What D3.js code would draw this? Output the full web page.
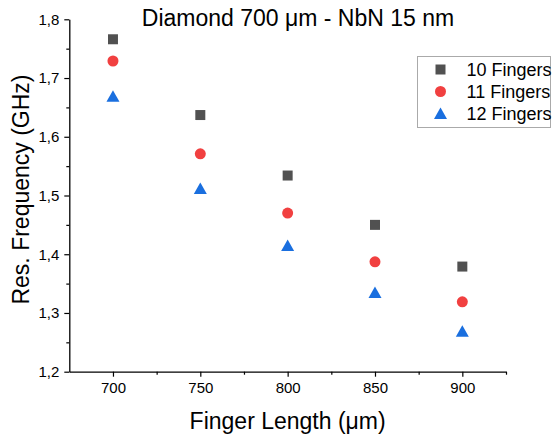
<!DOCTYPE html>
<html>
<head>
<meta charset="utf-8">
<script src="https://cdn.jsdelivr.net/npm/d3@7"></script>
<style>
  body { margin: 0; background: #fff; }
  svg { font-family: "Liberation Sans", Arial, sans-serif; }
</style>
</head>
<body>
<svg id="chart" width="555" height="435"></svg>
<script>
// Finger length (um)
const lengths = [700, 750, 800, 850, 900];

// Resonance frequency (GHz) per finger count
const fingers10 = [1.766, 1.637, 1.534, 1.450, 1.379];
const fingers11 = [1.729, 1.571, 1.470, 1.387, 1.319];
const fingers12 = [1.669, 1.512, 1.415, 1.335, 1.269];

const seriesNames = ["10 Fingers", "11 Fingers", "12 Fingers"];
const yTicks = [1.2, 1.3, 1.4, 1.5, 1.6, 1.7, 1.8];
const xTicks = [700, 750, 800, 850, 900];

const colors = ["#515151", "#F14040", "#1A6FDF"];
const shapes = ["square", "circle", "triangle"];

let margin = { top: 19.3, right: 49, bottom: 63.3, left: 69.3 };
let width = 555 - margin.left - margin.right;
let height = 435 - margin.top - margin.bottom;

let svg = d3.select("#chart");
let g = svg.append("g").attr("transform", `translate(${margin.left},${margin.top})`);

let xScale = d3.scaleLinear().domain([675, 925]).range([0, width]);
let yScale = d3.scaleLinear().domain([1.2, 1.8]).range([height, 0]);

let fmt = d => d3.format(".1f")(d).replace(".", ",");

// Marker path generator
function marker(shape) {
	if (shape === "square") return "M-5,-5H5V5H-5Z";
	if (shape === "circle") return d3.symbol().type(d3.symbolCircle).size(Math.PI * 5.5 * 5.5)();
	return "M0,-6L6.5,5.5H-6.5Z";
}

// Axes
let xAxis = g.append("g").attr("transform", `translate(0,${height})`)
	.call(d3.axisBottom(xScale).tickValues(xTicks).tickSize(5).tickSizeOuter(0).tickPadding(6));
xAxis.select(".domain").attr("stroke", "#000").attr("stroke-width", 1.3);
xAxis.selectAll("text").attr("font-size", 15).attr("fill", "#000");

g.append("g").attr("transform", `translate(0,${height})`)
	.call(d3.axisBottom(xScale).tickValues([725, 775, 825, 875, 925]).tickSize(3).tickFormat(""))
	.call(s => s.select(".domain").remove());

let yAxis = g.append("g")
	.call(d3.axisLeft(yScale).tickValues(yTicks).tickFormat(fmt).tickSize(5).tickSizeOuter(0).tickPadding(5));
yAxis.select(".domain").attr("stroke", "#000").attr("stroke-width", 1.3);
yAxis.selectAll("text").attr("font-size", 15).attr("fill", "#000");

g.append("g")
	.call(d3.axisLeft(yScale).tickValues([1.25, 1.35, 1.45, 1.55, 1.65, 1.75]).tickSize(3).tickFormat(""))
	.call(s => s.select(".domain").remove());

g.selectAll(".tick line").attr("stroke", "#000").attr("stroke-width", 1.2);

// Data series
let series = [fingers10, fingers11, fingers12].map((vals, i) => ({
	key: seriesNames[i],
	color: colors[i],
	shape: shapes[i],
	values: vals.map((v, j) => ({ x: lengths[j], y: v }))
}));

series.forEach(s => {
	g.append("g").selectAll("path")
		.data(s.values)
		.enter()
		.append("path")
		.attr("d", marker(s.shape))
		.attr("fill", s.color)
		.attr("transform", d => `translate(${xScale(d.x)},${yScale(d.y)})`);
});

// Title and axis labels
svg.append("text")
	.attr("x", 298).attr("y", 26)
	.attr("text-anchor", "middle")
	.attr("font-size", 23)
	.text("Diamond 700 \u03bcm - NbN 15 nm");

svg.append("text")
	.attr("x", margin.left + width / 2).attr("y", 429)
	.attr("text-anchor", "middle")
	.attr("font-size", 23)
	.text("Finger Length (\u03bcm)");

svg.append("text")
	.attr("transform", `translate(29,${margin.top + height / 2 - 6}) rotate(-90)`)
	.attr("text-anchor", "middle")
	.attr("font-size", 23)
	.text("Res. Frequency (GHz)");

// Legend
let legend = svg.append("g").attr("transform", "translate(417.5,56.5)");
legend.append("rect")
	.attr("width", 133).attr("height", 71)
	.attr("fill", "#fff").attr("stroke", "#aaa").attr("stroke-width", 1);

let rows = legend.selectAll(".row")
	.data(series)
	.enter()
	.append("g")
	.attr("transform", (d, i) => `translate(0,${13 + i * 22})`);

rows.append("path")
	.attr("d", d => marker(d.shape))
	.attr("fill", d => d.color)
	.attr("transform", "translate(23,0)");

rows.append("text")
	.attr("x", 49).attr("y", 6.5)
	.attr("font-size", 18)
	.text(d => d.key);
</script>
</body>
</html>
